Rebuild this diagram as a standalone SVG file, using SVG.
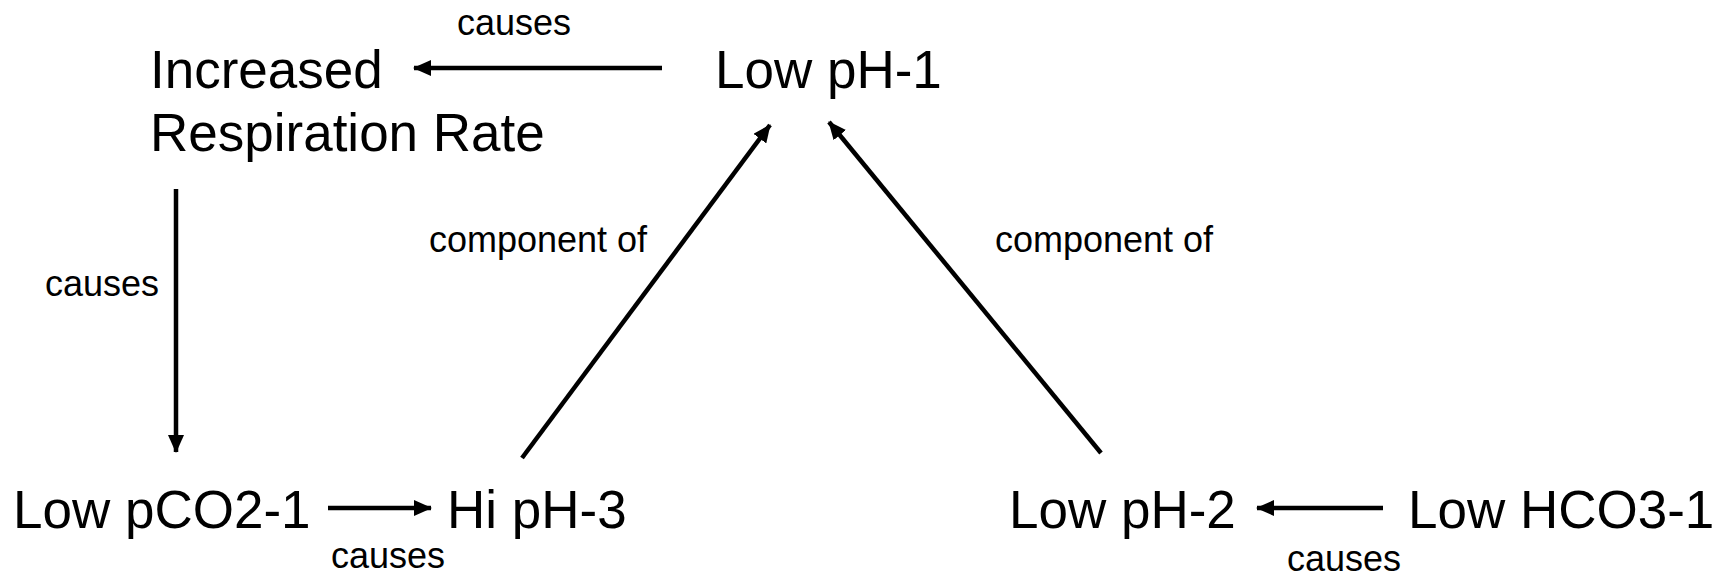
<svg xmlns="http://www.w3.org/2000/svg" width="1724" height="577" viewBox="0 0 1724 577">
<style>
.node{font-family:"Liberation Sans",Arial,sans-serif;font-size:53px;fill:#000}
.lbl{font-family:"Liberation Sans",Arial,sans-serif;font-size:36px;fill:#000}
.edge{stroke:#000;stroke-width:4.5;fill:none;marker-end:url(#ah)}
</style>
<defs>
<marker id="ah" markerUnits="userSpaceOnUse" markerWidth="18" markerHeight="16" refX="17" refY="8" orient="auto">
<path d="M0,0 L18,8 L0,16 Z" fill="#000"/>
</marker>
</defs>
<rect width="1724" height="577" fill="#fff"/>
<g id="connectors">
<line class="edge" x1="662" y1="68" x2="414" y2="68"/>
<line class="edge" x1="176" y1="189" x2="176" y2="452"/>
<line class="edge" x1="328" y1="508" x2="431" y2="508"/>
<line class="edge" x1="522" y1="458" x2="770" y2="125"/>
<line class="edge" x1="1101" y1="453" x2="829" y2="122"/>
<line class="edge" x1="1383" y1="508" x2="1257" y2="508"/>
<text class="lbl" x="514" y="35" text-anchor="middle">causes</text>
<text class="lbl" x="102" y="296" text-anchor="middle">causes</text>
<text class="lbl" x="388" y="568" text-anchor="middle">causes</text>
<text class="lbl" x="538" y="252" text-anchor="middle">component of</text>
<text class="lbl" x="1104" y="252" text-anchor="middle">component of</text>
<text class="lbl" x="1344" y="571" text-anchor="middle">causes</text>
</g>
<g id="n-resp"><text class="node" x="150" y="88">Increased</text><text class="node" x="150" y="151">Respiration Rate</text></g>
<g id="n-lowph1"><text class="node" x="715" y="88">Low pH-1</text></g>
<g id="n-lowpco2"><text class="node" x="13" y="528">Low pCO2-1</text></g>
<g id="n-hiph3"><text class="node" x="447" y="528">Hi pH-3</text></g>
<g id="n-lowph2"><text class="node" x="1009" y="528">Low pH-2</text></g>
<g id="n-lowhco3"><text class="node" x="1408" y="528">Low HCO3-1</text></g>
</svg>
